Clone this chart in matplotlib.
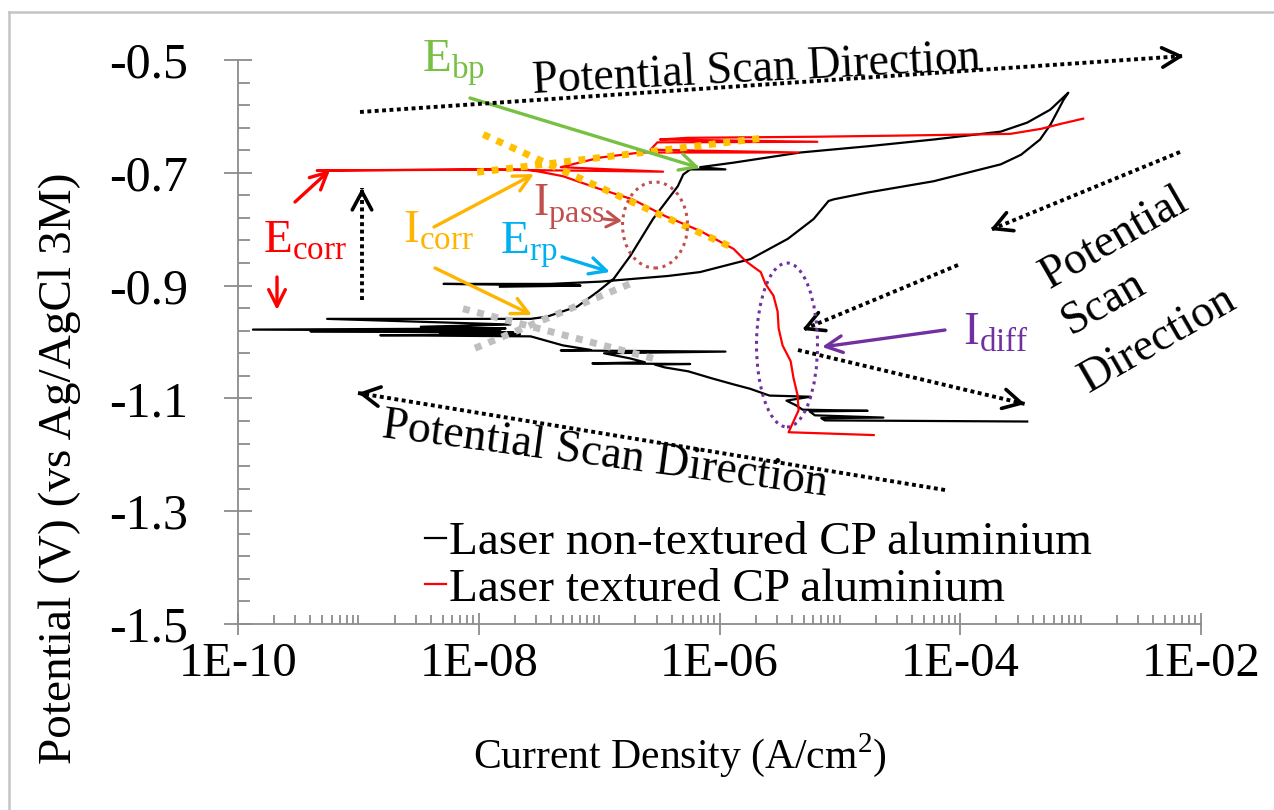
import numpy as np
import matplotlib
matplotlib.use('Agg')
import matplotlib.pyplot as plt
from matplotlib.ticker import LogLocator, FixedLocator, FuncFormatter, NullFormatter
from matplotlib.patches import Ellipse
from matplotlib.lines import Line2D

plt.rcParams['font.family'] = ['Liberation Serif', 'DejaVu Serif']
plt.rcParams['mathtext.fontset'] = 'custom'
plt.rcParams['mathtext.rm'] = 'Liberation Serif'
plt.rcParams['axes.unicode_minus'] = False

# cyclic polarisation, laser non-textured CP Al (current A/cm2, potential V)
black_i = [3.6e-4, 7.5e-6, 7.0e-6, 2.3e-5, 6.2e-6, 5.6e-6, 1.7e-5, 4.9e-6, 4.3e-6, 3.6e-6,
           5.7e-6, 2.6e-6, 1.8e-6, 1.3e-6, 8.5e-7, 5.5e-7, 3.5e-7, 2.9e-7, 5.7e-7, 8.8e-8,
           2.4e-7, 1.8e-7, 1.1e-7, 1.12e-6, 4.8e-8, 8.5e-8, 5.0e-8, 2.7e-8, 1.52e-9, 2.2e-8,
           4.8e-9, 1.94e-8, 4.0e-10, 1.51e-8, 1.33e-10, 1.67e-8, 3.3e-9, 1.83e-8, 5.5e-10, 2.7e-8,
           3.7e-8, 6.6e-8, 9.7e-8, 1.32e-7, 1.82e-7, 2.8e-7, 4.5e-7, 5.0e-7, 5.7e-7, 1.12e-6,
           6.9e-7, 1.31e-6, 4.7e-6, 1.7e-5, 6.0e-5, 2.17e-4, 3.6e-4, 5.6e-4, 7.9e-4, 7.2e-4,
           5.6e-4, 4.6e-4, 3.2e-4, 2.17e-4, 6.0e-5, 1.7e-5, 8.9e-6, 8.05e-6, 6.05e-6, 3.7e-6,
           1.81e-6, 6.9e-7, 3.7e-7, 1.93e-7, 1.02e-7, 3.9e-8, 5.1e-9, 7.0e-8, 1.5e-8]
black_e = [-1.141, -1.139, -1.135, -1.134, -1.130, -1.123, -1.122, -1.120, -1.112, -1.104,
           -1.097, -1.095, -1.083, -1.075, -1.064, -1.052, -1.045, -1.040, -1.039, -1.038,
           -1.036, -1.029, -1.020, -1.017, -1.015, -1.014, -1.006, -0.990, -0.988, -0.986,
           -0.985, -0.983, -0.981, -0.980, -0.978, -0.976, -0.973, -0.969, -0.959, -0.959,
           -0.955, -0.937, -0.911, -0.888, -0.847, -0.782, -0.724, -0.703, -0.694, -0.694,
           -0.690, -0.682, -0.664, -0.653, -0.641, -0.627, -0.611, -0.588, -0.558, -0.571,
           -0.615, -0.641, -0.668, -0.685, -0.715, -0.735, -0.747, -0.750, -0.782, -0.817,
           -0.853, -0.876, -0.883, -0.888, -0.893, -0.897, -0.897, -0.900, -0.902]

# laser textured CP Al
red_i = [1.91e-5, 3.75e-6, 4.54e-6, 4.45e-6, 4.12e-6, 3.9e-6, 3.34e-6, 3.1e-6, 3.04e-6, 2.81e-6,
         2.41e-6, 2.2e-6, 1.92e-6, 1.64e-6, 1.31e-6, 6.9e-7, 3.56e-7, 1.89e-7, 9.9e-8, 5.0e-8,
         3.2e-8, 2.44e-8, 4.5e-10, 8.5e-9, 3.4e-7, 4.8e-8, 1.02e-7, 2.2e-7, 4.5e-6, 2.67e-7,
         3.05e-7, 6.5e-6, 3.2e-7, 5.4e-7, 6.5e-6, 3.2e-5, 2.6e-4, 4.7e-4, 6.9e-4, 1.05e-3]
red_e = [-1.165, -1.160, -1.121, -1.094, -1.064, -1.034, -1.006, -0.976, -0.946, -0.918,
         -0.897, -0.876, -0.867, -0.856, -0.835, -0.803, -0.777, -0.747, -0.728, -0.706,
         -0.698, -0.694, -0.696, -0.694, -0.698, -0.690, -0.673, -0.664, -0.664, -0.659,
         -0.646, -0.645, -0.641, -0.638, -0.636, -0.634, -0.631, -0.622, -0.613, -0.604]

# Tafel extrapolation lines
tafel_orange = [([1.09e-8, 1.36e-6], [-0.632, -0.835]),
                ([9.7e-9, 2.4e-6], [-0.699, -0.638])]
tafel_grey = [([7.4e-9, 2.8e-7], [-0.941, -1.029]),
              ([9.3e-9, 2.0e-7], [-1.011, -0.893])]

xticks = [1e-10, 1e-8, 1e-6, 1e-4, 1e-2]
yticks = [-1.5, -1.3, -1.1, -0.9, -0.7, -0.5]

W, H = 1274, 810
fig = plt.figure(figsize=(W / 100, H / 100), dpi=100)
ax = fig.add_axes([238 / W, 1 - 624 / H, 963 / W, 564 / H])


def fp(px, py):
    return (px / W, 1 - py / H)


ax.plot(black_i, black_e, color='black', lw=1.6, label='Laser non-textured CP aluminium')
ax.plot(red_i, red_e, color='red', lw=1.6, label='Laser textured CP aluminium')
for xs, ys in tafel_grey:
    ax.plot(xs, ys, color='#bfbfbf', lw=5, dashes=(1, 1.1), dash_capstyle='butt')
for xs, ys in tafel_orange:
    ax.plot(xs, ys, color='#ffc000', lw=5, dashes=(1, 1.1), dash_capstyle='butt')

ax.set_xscale('log')
ax.set_xlim(1e-10, 1e-2)
ax.set_ylim(-1.5, -0.5)
ax.xaxis.set_major_locator(FixedLocator(xticks))
ax.xaxis.set_minor_locator(LogLocator(base=10, subs=np.arange(1, 10), numticks=100))
ax.xaxis.set_major_formatter(FuncFormatter(lambda v, p: '1E%+03d' % round(np.log10(v))))
ax.xaxis.set_minor_formatter(NullFormatter())
ax.yaxis.set_major_locator(FixedLocator(yticks))
ax.yaxis.set_minor_locator(FixedLocator(np.arange(-1.5, -0.49, 0.04)))
ax.yaxis.set_major_formatter(FuncFormatter(lambda v, p: '%.1f' % v))

gc = '#8c8c8c'
for s in ('top', 'right'):
    ax.spines[s].set_visible(False)
for s in ('left', 'bottom'):
    ax.spines[s].set_color(gc)
    ax.spines[s].set_linewidth(1.3)
ax.tick_params(axis='y', which='major', direction='inout', length=20, width=1.3, color=gc,
               pad=26, labelsize=36)
ax.tick_params(axis='y', which='minor', direction='in', length=8.5, width=1.3, color=gc)
ax.tick_params(axis='x', which='major', direction='inout', length=16, width=1.3, color=gc,
               pad=5, labelsize=35)
ax.tick_params(axis='x', which='minor', direction='in', length=6.5, width=1.3, color=gc)

ax.set_xlabel('Current Density (A/cm$^{2}$)', fontsize=30, va='baseline')
ax.xaxis.set_label_coords((680 - 238) / 963, (624 - 768) / 564)
ax.set_ylabel('Potential (V) (vs Ag/AgCl 3M)', fontsize=34, va='center')
ax.yaxis.set_label_coords((60 - 238) / 963, (624 - 468) / 564)

ax.legend(loc='upper left', bbox_to_anchor=fp(425, 521), bbox_transform=fig.transFigure,
          frameon=False, fontsize=34, handlelength=0.45, handletextpad=0.05,
          borderpad=0, borderaxespad=0, labelspacing=0.08)

# outer frame
fig.add_artist(Line2D([9 / W, 1.0], [1 - 12 / H] * 2, transform=fig.transFigure, color='#c4c4c4', lw=1.8))
fig.add_artist(Line2D([9 / W] * 2, [0.0, 1 - 12 / H], transform=fig.transFigure, color='#c4c4c4', lw=1.8))


def arrow(p0, p1, color, lw=2.4, hl=1.2, hw=0.6):
    ax.annotate('', xy=fp(*p1), xytext=fp(*p0), xycoords='figure fraction',
                arrowprops=dict(arrowstyle='->,head_length=%g,head_width=%g' % (hl, hw),
                                color=color, lw=lw, shrinkA=0, shrinkB=0))


def scan_arrow(p0, p1):
    (x0, y0), (x1, y1) = fp(*p0), fp(*p1)
    fig.add_artist(Line2D([x0, x1], [y0, y1], transform=fig.transFigure, color='black',
                          lw=2.8, dashes=(1, 0.9)))
    dx, dy = p1[0] - p0[0], p1[1] - p0[1]
    n = np.hypot(dx, dy)
    arrow((p1[0] - 6 * dx / n, p1[1] - 6 * dy / n), p1, 'black', lw=2.6, hl=1.3, hw=0.7)


scan_arrow((360, 112), (1184, 56))
scan_arrow((1180, 152), (990, 230))
scan_arrow((958, 265), (802, 330))
scan_arrow((798, 350), (1025, 404))
scan_arrow((945, 490), (358, 393))
scan_arrow((362, 300), (362, 188))

fs = 33
fig.text(*fp(757, 70), 'Potential Scan Direction', fontsize=fs, rotation=3,
         ha='center', va='center', rotation_mode='anchor')
fig.text(*fp(605, 455), 'Potential Scan Direction', fontsize=fs, rotation=-7.5,
         ha='center', va='center', rotation_mode='anchor')
fig.text(*fp(1115, 238), 'Potential', fontsize=fs, rotation=30, ha='center', va='center',
         rotation_mode='anchor')
fig.text(*fp(1104, 303), 'Scan', fontsize=fs, rotation=30, ha='center', va='center',
         rotation_mode='anchor')
fig.text(*fp(1158, 340), 'Direction', fontsize=fs, rotation=30, ha='center', va='center',
         rotation_mode='anchor')

c_bp, c_corr, c_rp, c_pass, c_diff = '#77c043', '#ffb400', '#00b0f0', '#c0504d', '#7030a0'
fig.text(*fp(422, 72), r'E$_{\mathrm{bp}}$', color=c_bp, fontsize=34, va='baseline')
arrow((470, 98), (700, 168), c_bp)
fig.text(*fp(263, 253), r'E$_{\mathrm{corr}}$', color='red', fontsize=34, va='baseline')
arrow((295, 202), (330, 170), 'red')
arrow((277, 277), (277, 310), 'red')
fig.text(*fp(403, 243), r'I$_{\mathrm{corr}}$', color=c_corr, fontsize=34, va='baseline')
arrow((434, 227), (534, 174), c_corr)
arrow((435, 268), (532, 315), c_corr)
fig.text(*fp(500, 254), r'E$_{\mathrm{rp}}$', color=c_rp, fontsize=34, va='baseline')
arrow((562, 257), (610, 272), c_rp)
fig.text(*fp(533, 215), r'I$_{\mathrm{pass}}$', color=c_pass, fontsize=33, va='baseline')
arrow((604, 219), (622, 221), c_pass, lw=2.2, hl=0.9, hw=0.55)
fig.text(*fp(963, 345), r'I$_{\mathrm{diff}}$', color=c_diff, fontsize=34, va='baseline')
arrow((945, 330), (822, 347), c_diff)

fig.add_artist(Ellipse(fp(655, 225), 65 / W, 86 / H, transform=fig.transFigure, fill=False,
                       ec=c_pass, lw=2.2, ls=(0, (1, 1.5))))
fig.add_artist(Ellipse(fp(787, 345), 61 / W, 164 / H, transform=fig.transFigure, fill=False,
                       ec=c_diff, lw=2.2, ls=(0, (1, 1.5))))

fig.savefig('out.png', dpi=100)
